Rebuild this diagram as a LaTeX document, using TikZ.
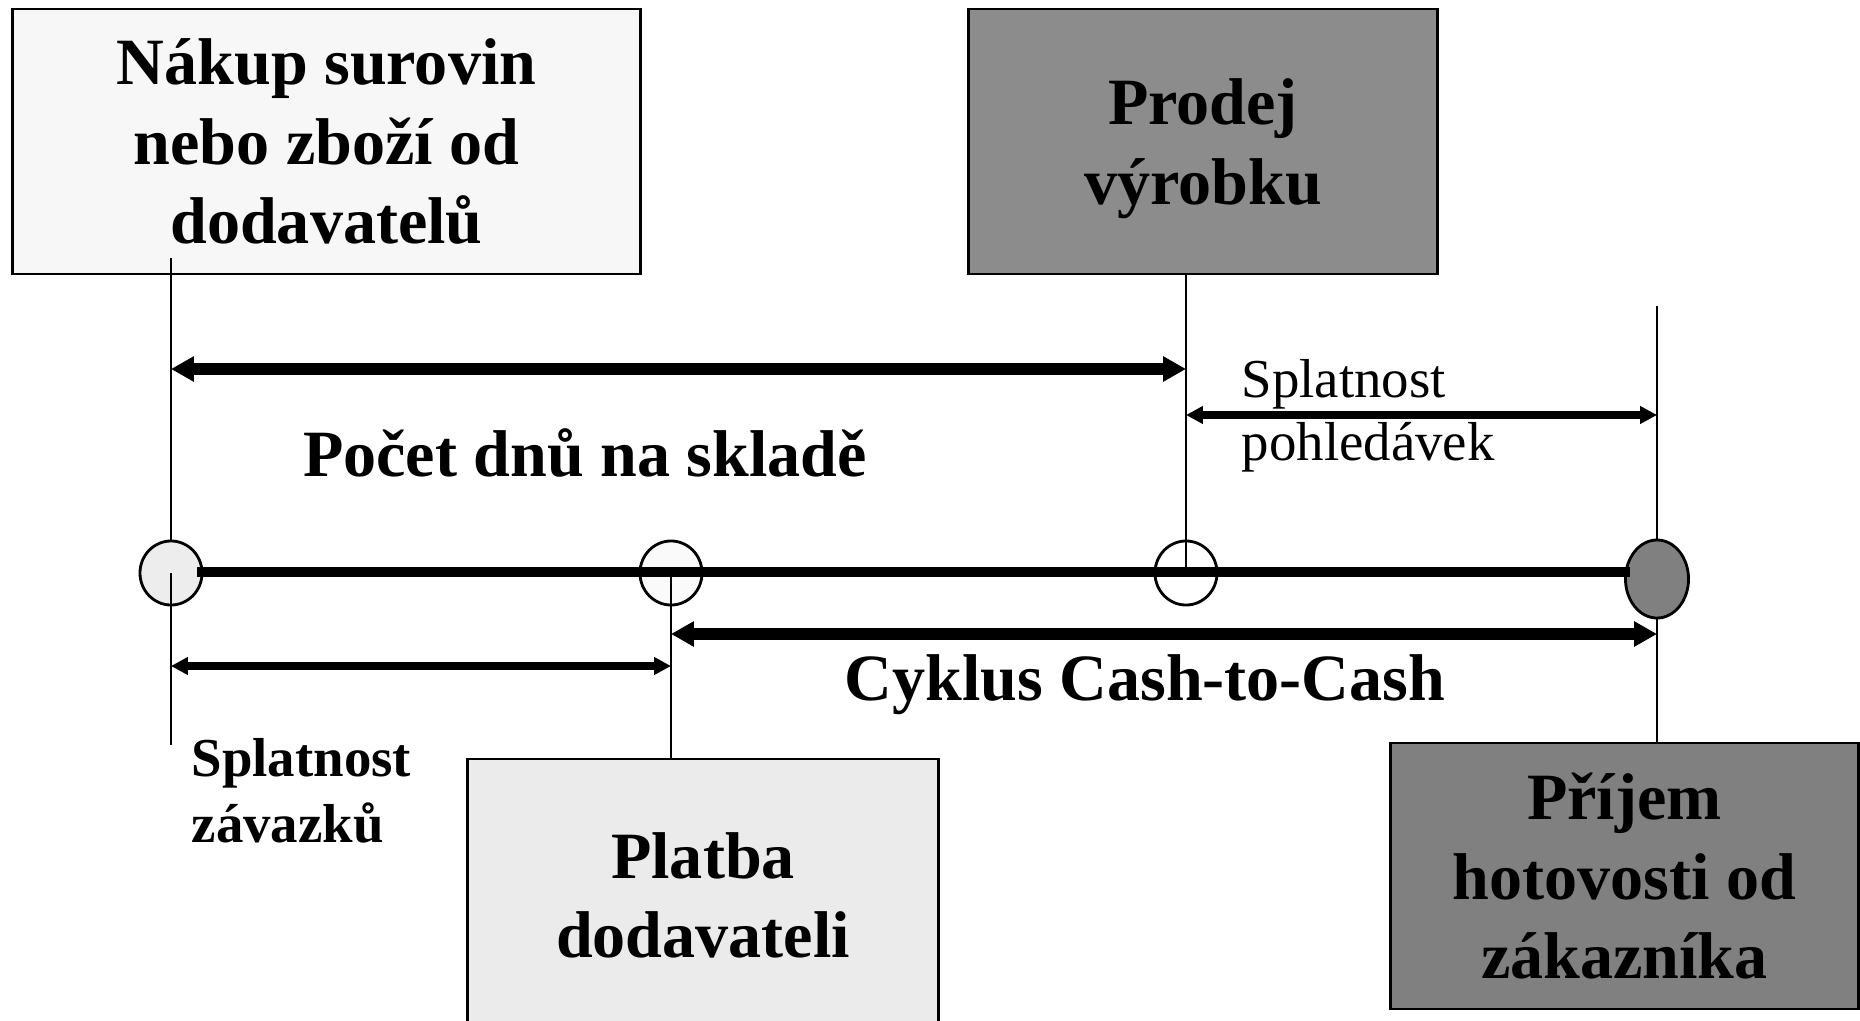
\documentclass[tikz,border=0pt]{standalone}
\usepackage{fontspec}
\setmainfont{Liberation Serif}
\usetikzlibrary{arrows.meta,shapes.geometric}

\tikzset{
  krabice/.style={draw,line width=0.8pt,align=center,inner sep=0pt,text depth=0pt,font=\fontsize{18.8}{22.6}\selectfont\bfseries},
  bod/.style={draw,ellipse,line width=0.8pt,minimum width=0.62cm,minimum height=0.64cm,inner sep=0pt},
  tenka/.style={line width=0.75pt},
  velka/.style={line width=3.2pt,{Triangle[length=6.5pt,width=6.8pt]}-{Triangle[length=6.5pt,width=6.8pt]}},
  mala/.style={line width=2.2pt,{Triangle[length=4.8pt,width=4.8pt]}-{Triangle[length=4.8pt,width=4.8pt]}},
}

\begin{document}
\begin{tikzpicture}[x=0.01cm,y=-0.01cm]
\useasboundingbox (0,0) rectangle (1860,1021);

% BOXES
\node[krabice,fill=black!3,minimum width=6.27cm,minimum height=2.65cm] (nakup) at (326.5,141.5) {Nákup surovin\\nebo zboží od\\dodavatelů};
\node[krabice,fill=black!45,minimum width=4.68cm,minimum height=2.65cm] (prodej) at (1203,141.5) {Prodej\\výrobku};
\node[krabice,fill=black!8,minimum width=4.70cm,minimum height=2.72cm] (platba) at (703,895) {Platba\\dodavateli};
\node[krabice,fill=black!50,minimum width=4.67cm,minimum height=2.66cm] (prijem) at (1624.5,876) {Příjem\\hotovosti od\\zákazníka};

% FREE ENDS AND ROWS
\coordinate (z1) at (171,258);
\coordinate (z2) at (171,745);
\coordinate (z3) at (1657,306);
\coordinate (r1) at (0,369);
\coordinate (r2) at (0,415);
\coordinate (r3) at (0,634);
\coordinate (r4) at (0,666);

% TIMELINE
\draw[tenka] (z1) -- (171,560);
\draw[tenka] (z3) -- (1657,560);
\node[bod,fill=black!7] (c1) at (171,573) {};
\node[bod,fill=black!2] (c2) at (671,573) {};
\node[bod,fill=white] (c3) at (1186,573) {};
\node[bod,fill=black!50,minimum width=0.63cm,minimum height=0.78cm] (c4) at (1657,579) {};
\draw[tenka] (c1.center) -- (z2);
\draw[tenka] (c2.center) -- (platba.north -| c2);
\draw[tenka] (prodej.south -| c3) -- (c3.center);
\draw[tenka] (c4.south) -- (prijem.north -| c4);
\draw[line width=3.1pt] ([xshift=-0.06cm]c1.east |- 0,572) -- ([xshift=0.06cm]c4.west |- 0,572);

% ARROWS
\draw[velka] (c1 |- r1) -- (c3 |- r1);
\draw[mala] (c3 |- r2) -- (c4 |- r2);
\draw[velka] (c2 |- r3) -- (c4 |- r3);
\draw[mala] (c1 |- r4) -- (c2 |- r4);

% LABELS
\node[anchor=base,font=\fontsize{18.8}{22}\selectfont\bfseries] (sklad) at (585,476) {Počet dnů na skladě};
\node[anchor=base,font=\fontsize{18.8}{22}\selectfont\bfseries] (cyklus) at (1145,700) {Cyklus Cash-to-Cash};
\node[anchor=base west,align=left,inner sep=0pt,font=\fontsize{15.6}{17.9}\selectfont] (pohl) at (1241,460) {Splatnost\\pohledávek};
\node[anchor=base west,align=left,inner sep=0pt,font=\fontsize{15.6}{18.5}\selectfont\bfseries] (zav) at (191,842) {Splatnost\\závazků};

\end{tikzpicture}
\end{document}
